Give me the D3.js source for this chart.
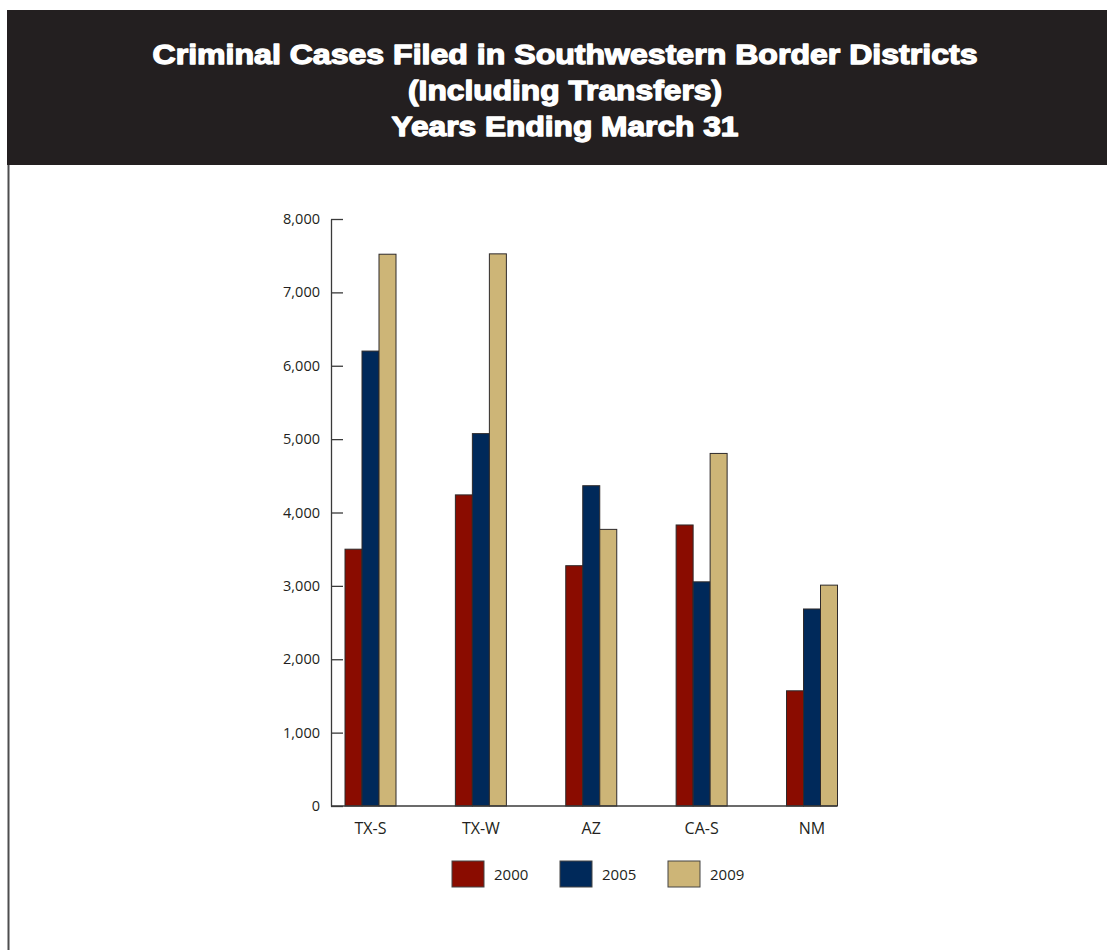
<!DOCTYPE html>
<html><head><meta charset="utf-8">
<script src="https://cdn.jsdelivr.net/npm/d3@7"></script>
<style>html,body{margin:0;padding:0;background:#fff;}svg{display:block;}</style>
</head><body>
<script>
const titleLines = ["Criminal Cases Filed in Southwestern Border Districts", "(Including Transfers)", "Years Ending March 31"];
const titleWidths = [825, 314, 347];
const districts = ["TX-S", "TX-W", "AZ", "CA-S", "NM"];
const seriesNames = ["2000", "2005", "2009"];
const values2000 = [3500, 4240, 3275, 3830, 1570];
const values2005 = [6200, 5075, 4365, 3055, 2685];
const values2009 = [7520, 7525, 3770, 4805, 3010];
const yTicks = [0, 1000, 2000, 3000, 4000, 5000, 6000, 7000, 8000];
const colors = ["#8a0c00", "#00295a", "#cdb577"];

const W = 1107, H = 950;
const svg = d3.select("body").append("svg").attr("width", W).attr("height", H);

// header band
svg.append("rect").attr("x", 7).attr("y", 10).attr("width", W - 7).attr("height", 155).attr("fill", "#231f20");
svg.append("line").attr("x1", 8.5).attr("x2", 8.5).attr("y1", 165).attr("y2", H)
  .attr("stroke", "#4d4d4f").attr("stroke-width", 2);

svg.selectAll("text.title").data(titleLines).join("text")
  .attr("class", "title")
  .attr("x", 565).attr("y", (d, i) => 64 + i * 36)
  .attr("text-anchor", "middle")
  .attr("font-family", "'Liberation Sans', Arial, sans-serif")
  .attr("font-weight", "bold").attr("font-size", 27)
  .attr("textLength", (d, i) => titleWidths[i])
  .attr("lengthAdjust", "spacingAndGlyphs")
  .attr("fill", "#fff").attr("stroke", "#fff").attr("stroke-width", 1.3)
  .attr("stroke-linejoin", "round")
  .text(d => d);

const axisX = 331;
const y = d3.scaleLinear().domain([0, 8000]).range([806, 219]);
const xc = d3.scalePoint().domain(districts).range([370.5, 812]);
const xs = d3.scaleBand().domain(seriesNames).range([-25.5, 25.5]).padding(0);

const data = [values2000, values2005, values2009];

const font = "'Open Sans', 'DejaVu Sans', sans-serif";

// y axis
const yAxis = d3.axisRight(y).tickValues(yTicks).tickSize(12).tickFormat("").tickSizeOuter(0);
const gy = svg.append("g").attr("transform", `translate(${axisX},0)`).call(yAxis);
gy.select(".domain").attr("stroke", "#3a3a3a").attr("stroke-width", 1.3);
gy.selectAll(".tick line").attr("stroke", "#3a3a3a").attr("stroke-width", 1.3);
svg.selectAll("text.ytick").data(yTicks).join("text")
  .attr("class", "ytick")
  .attr("x", 320).attr("y", d => y(d)).attr("dy", "0.35em")
  .attr("text-anchor", "end").attr("font-family", font).attr("font-size", 14.5)
  .attr("fill", "#231f20").text(d => d3.format(",")(d));

// bars
districts.forEach((dName, i) => {
  seriesNames.forEach((s, j) => {
    const v = data[j][i];
    svg.append("rect")
      .attr("x", xc(dName) + xs(s))
      .attr("y", y(v))
      .attr("width", xs.bandwidth())
      .attr("height", y(0) - y(v))
      .attr("fill", colors[j])
      .attr("stroke", "#2e2a2b").attr("stroke-width", 1);
  });
});

// x axis line
svg.append("line").attr("x1", axisX).attr("x2", 837).attr("y1", y(0)).attr("y2", y(0))
  .attr("stroke", "#3a3a3a").attr("stroke-width", 1.3);

svg.selectAll("text.xlab").data(districts).join("text")
  .attr("class", "xlab")
  .attr("x", d => xc(d)).attr("y", 834)
  .attr("text-anchor", "middle").attr("font-family", font).attr("font-size", 16)
  .attr("fill", "#231f20").text(d => d);

// legend
const lg = svg.append("g");
seriesNames.forEach((s, j) => {
  const lx = 452 + j * 108;
  lg.append("rect").attr("x", lx).attr("y", 861).attr("width", 32).attr("height", 26)
    .attr("fill", colors[j]).attr("stroke", "#444").attr("stroke-width", 1);
  lg.append("text").attr("x", lx + 42).attr("y", 880)
    .attr("font-family", font).attr("font-size", 15).attr("fill", "#231f20").text(s);
});
</script>
</body></html>
